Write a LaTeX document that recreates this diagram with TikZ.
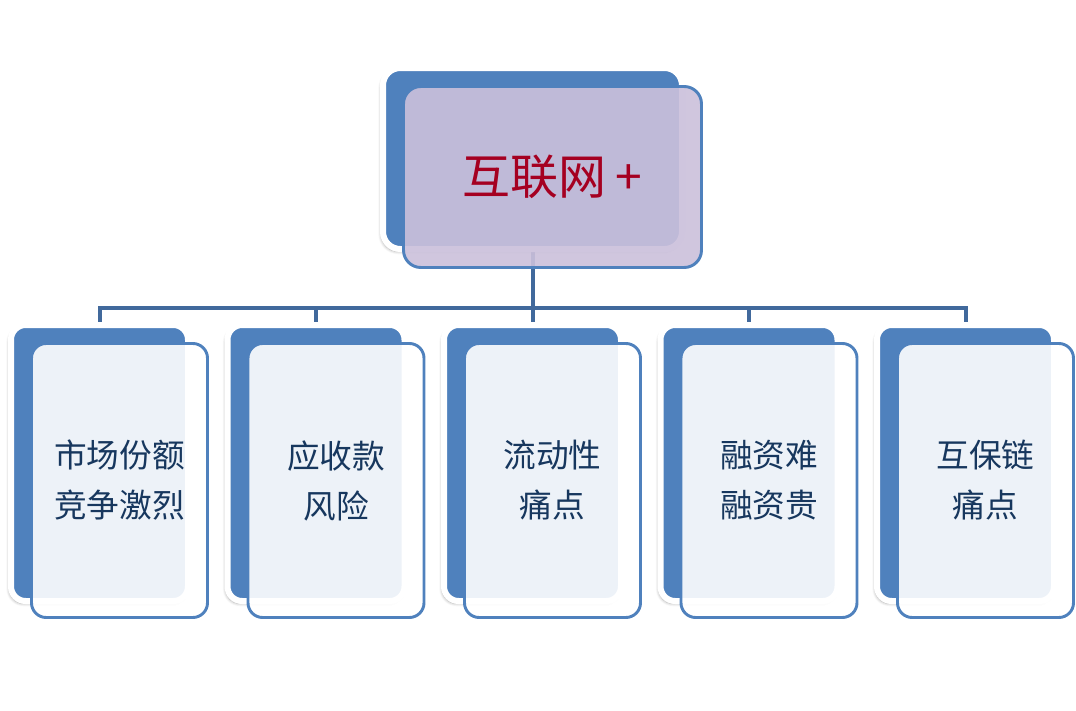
\documentclass[tikz,border=0pt]{standalone}
\usepackage{fontspec}
\setmainfont{Noto Sans CJK SC}
\usetikzlibrary{shadows.blur}
\definecolor{cardblue}{HTML}{4F81BD}
\definecolor{linkblue}{RGB}{65,105,156}
\definecolor{topfill}{RGB}{203,192,219}
\definecolor{txtnavy}{HTML}{17375E}
\definecolor{txtred}{HTML}{A50021}
\pgfdeclarelayer{bg}
\pgfsetlayers{bg,main}
\tikzset{
  backcard/.style={draw=white, line width=4.5pt, fill=cardblue, rounded corners=11pt,
    inner sep=0pt, minimum width=132.75pt, minimum height=207pt,
    blur shadow={shadow xshift=-1.5pt, shadow yshift=-2pt, shadow blur steps=6, shadow opacity=32}},
  topback/.style={backcard, minimum width=224.25pt, minimum height=135.75pt, rounded corners=13pt},
  frontcard/.style={draw=cardblue, line width=2.2pt, fill=white, fill opacity=0.9, text opacity=1,
    rounded corners=11pt, inner sep=0pt, minimum width=132pt, minimum height=205.5pt,
    text=txtnavy, font=\fontsize{24.5pt}{37.5pt}\selectfont, align=center},
  topfront/.style={frontcard, fill=topfill, fill opacity=0.91, minimum width=223.5pt,
    minimum height=135.75pt, rounded corners=13pt, text=txtred, font=\fontsize{36pt}{40pt}\selectfont},
  link/.style={draw=linkblue, line width=3pt},
}
\begin{document}
\begin{tikzpicture}[x=0.75pt,y=-0.75pt]
\useasboundingbox (0,0) rectangle (1076,711);
% top card
\node[topback] (tb) at (532.5,158.5) {};
\node[topfront] (tf) at (552.5,177) {互联网\kern7pt+};
% lower cards
\node[backcard] (b1) at (99.5,463) {};
\node[frontcard] (f1) at (119.5,480.5) {市场份额\\竞争激烈};
\node[backcard] (b2) at (316,463) {};
\node[frontcard] (f2) at (336,480.5) {应收款\\风险};
\node[backcard] (b3) at (532.5,463) {};
\node[frontcard] (f3) at (552.5,480.5) {流动性\\痛点};
\node[backcard] (b4) at (749,463) {};
\node[frontcard] (f4) at (769,480.5) {融资难\\融资贵};
\node[backcard] (b5) at (965.5,463) {};
\node[frontcard] (f5) at (985.5,480.5) {互保链\\痛点};
\coordinate (hub) at (532.5,308);
\begin{pgfonlayer}{bg}
\draw[link] (tb.south) -- (hub);
\foreach \i in {1,...,5}{\draw[link] (hub) -| (b\i.north);}
\end{pgfonlayer}
\end{tikzpicture}
\end{document}
